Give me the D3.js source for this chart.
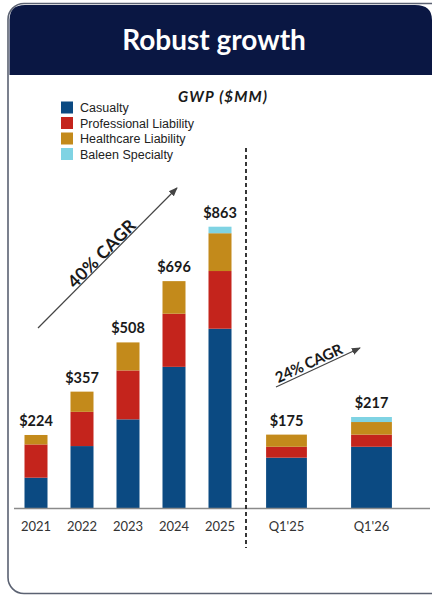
<!DOCTYPE html>
<html><head><meta charset="utf-8">
<script src="https://cdn.jsdelivr.net/npm/d3@7"></script>
<style>html,body{margin:0;padding:0;background:#fff;}svg{display:block;}</style>
</head><body>
<svg id="c" width="432" height="596"></svg>
<script>
const years = ["2021","2022","2023","2024","2025"];
const quarters = ["Q1'25","Q1'26"];
const seriesNames = ["Casualty","Professional Liability","Healthcare Liability","Baleen Specialty"];
const colors = ["#0b4a82","#c4241c","#c38a1b","#7fd3e3"];
const casualtyAnnual = [93,190,272,433,550];
const profAnnual = [102,105,150,163,177];
const healthAnnual = [29,62,86,100,116];
const baleenAnnual = [0,0,0,0,20];
const totalLabelsAnnual = ["$224","$357","$508","$696","$863"];
const casualtyQ = [120,146];
const profQ = [26,29];
const healthQ = [29,30];
const baleenQ = [0,12];
const totalLabelsQ = ["$175","$217"];

const svg = d3.select("#c");
const geo = "Lato, 'Open Sans', sans-serif";

// card
svg.append("rect").attr("x",8).attr("y",3.5).attr("width",440).attr("height",590)
  .attr("rx",16).attr("fill","#fff").attr("stroke","#5b6272").attr("stroke-width",1.6);
// header
const hp = d3.path();
hp.moveTo(9.5,75); hp.lineTo(9.5,20); hp.quadraticCurveTo(9.5,5,25,5);
hp.lineTo(415,5); hp.quadraticCurveTo(432,5,432,20); hp.lineTo(432,75); hp.closePath();
svg.append("path").attr("d",hp.toString()).attr("fill","#0a1743");
svg.append("text").attr("x",214).attr("y",50).attr("text-anchor","middle")
  .attr("fill","#fff").attr("font-family",geo).attr("font-weight",700)
  .attr("font-size",28).text("Robust growth");

// scales
const xL = d3.scaleBand().domain(years).range([13,243]).paddingInner(0.5).paddingOuter(0.25);
const xR = d3.scaleBand().domain(quarters).range([244,414]).paddingInner(0.52).paddingOuter(0.26);
const yL = d3.scaleLinear().domain([0,863]).range([508,226.7]);
const yR = d3.scaleLinear().domain([0,217]).range([508,417]);

function build(cats, arrs){
  return cats.map((c,i)=>{const o={cat:c}; seriesNames.forEach((s,j)=>o[s]=arrs[j][i]); return o;});
}
const dataL = build(years,[casualtyAnnual,profAnnual,healthAnnual,baleenAnnual]);
const dataR = build(quarters,[casualtyQ,profQ,healthQ,baleenQ]);
const stack = d3.stack().keys(seriesNames);

function drawBars(data,x,y,labels){
  const st = stack(data);
  const g = svg.append("g");
  st.forEach((layer,j)=>{
    g.selectAll(null).data(layer.filter(d=>d[1]>d[0])).join("rect")
      .attr("x",d=>x(d.data.cat)).attr("width",x.bandwidth())
      .attr("y",d=>y(d[1])).attr("height",d=>y(d[0])-y(d[1]))
      .attr("fill",colors[j]);
  });
  const top = st[st.length-1];
  g.selectAll(null).data(top).join("text")
    .attr("x",d=>x(d.data.cat)+x.bandwidth()/2).attr("y",d=>y(d[1])-9)
    .attr("text-anchor","middle").attr("font-family",geo).attr("font-weight",700)
    .attr("font-size",14.5).attr("fill","#1a1a1a").text((d,i)=>labels[i]);
}
drawBars(dataL,xL,yL,totalLabelsAnnual);
drawBars(dataR,xR,yR,totalLabelsQ);

// axis line
svg.append("line").attr("x1",14).attr("x2",430).attr("y1",508.5).attr("y2",508.5)
  .attr("stroke","#8a8a8a").attr("stroke-width",1.3);
function axis(x){
  const a = svg.append("g").attr("transform","translate(0,508)").call(d3.axisBottom(x).tickSize(0).tickPadding(14));
  a.select(".domain").remove();
  a.selectAll("text").attr("font-family",geo).attr("font-size",13).attr("fill","#333");
}
axis(xL); axis(xR);

// divider
svg.append("line").attr("x1",246).attr("x2",246).attr("y1",148).attr("y2",548)
  .attr("stroke","#222").attr("stroke-width",1.8).attr("stroke-dasharray","4,3");

// arrows
const defs = svg.append("defs");
defs.append("marker").attr("id","ah").attr("viewBox","0 0 10 10").attr("refX",9).attr("refY",5)
  .attr("markerWidth",9).attr("markerHeight",9).attr("markerUnits","userSpaceOnUse").attr("orient","auto")
  .append("path").attr("d","M0,1 L10,5 L0,9 Z").attr("fill","#444");
function arrow(x1,y1,x2,y2,label,tx,ty,fs,len){
  svg.append("line").attr("x1",x1).attr("y1",y1).attr("x2",x2).attr("y2",y2)
    .attr("stroke","#444").attr("stroke-width",1.2).attr("marker-end","url(#ah)");
  const ang = Math.atan2(y2-y1,x2-x1)*180/Math.PI;
  svg.append("text").attr("transform",`translate(${tx},${ty}) rotate(${ang})`)
    .attr("text-anchor","middle").attr("font-family",geo).attr("font-weight",700)
    .attr("font-size",fs).attr("textLength",len).attr("lengthAdjust","spacing")
    .attr("fill","#1a1a1a").text(label);
}
arrow(38,328,177,188,"40% CAGR",106,258,17.5,88);
arrow(276,387,360,348,"24% CAGR",311,368,15,72);

// legend
const lg = svg.append("g");
seriesNames.forEach((s,i)=>{
  lg.append("rect").attr("x",61).attr("y",101.5+i*15.5).attr("width",12).attr("height",12).attr("fill",colors[i]);
  lg.append("text").attr("x",80).attr("y",112+i*15.5).attr("font-family","'Liberation Sans', Arial, sans-serif")
    .attr("font-size",12.5).attr("fill","#222").text(s);
});
svg.append("text").attr("x",178).attr("y",102).attr("font-family",geo).attr("font-weight",700)
  .attr("font-style","italic").attr("font-size",15).attr("textLength",89).attr("lengthAdjust","spacing")
  .attr("fill","#1a1a1a").text("GWP ($MM)");
</script>
</body></html>
